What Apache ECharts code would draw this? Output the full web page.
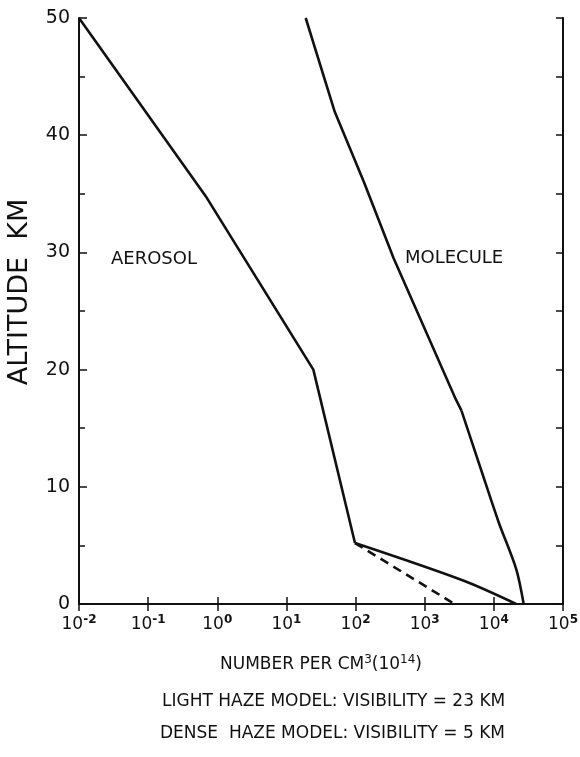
<!DOCTYPE html>
<html>
<head>
<meta charset="utf-8">
<script src="https://cdn.jsdelivr.net/npm/echarts@6/dist/echarts.min.js"></script>
<style>
  html, body { margin: 0; padding: 0; background: #fff; }
  #main { width: 580px; height: 757px; }
</style>
</head>
<body>
<div id="main"></div>
<script>
// altitude (km) and number per cm3 (x 10^14)
var aerosolAlt = [50, 34.8, 20, 5.2];
var aerosolVal = [0.01, 0.68, 24.5, 98];
var lightHazeAlt = [5.2, 2, 0];
var lightHazeVal = [98, 3600, 21000];
var denseHazeAlt = [5.2, 0];
var denseHazeVal = [98, 2700];
var moleculeAlt = [50, 42, 36, 29.5, 17.5, 16.5, 11.5, 7, 3, 0];
var moleculeVal = [19, 50, 132, 355, 2800, 3400, 6500, 11700, 21000, 27000];
var yTicks = [0, 10, 20, 30, 40, 50];

function pairs(vals, alts) {
    return vals.map(function (v, i) { return [v, alts[i]]; });
}

// molecule: straight segments above ~16 km, smooth bend below
var moleculeData = pairs(moleculeVal, moleculeAlt);
var moleculeUpper = moleculeData.slice(0, 6);
var moleculeLower = moleculeData.slice(5);

var font = 'DejaVu Sans';
var ink = '#111';

var myChart = echarts.init(document.getElementById('main'));

var lineStyle = function (type) {
    return {color: ink, width: 2.6, type: type || 'solid'};
};

var option = {
    backgroundColor: '#fff',
    animation: false,
    grid: {left: 79, right: 17, top: 18, bottom: 153, containLabel: false, outerBoundsMode: 'none'},
    xAxis: [
        {
            type: 'log',
            logBase: 10,
            min: 0.01,
            max: 100000,
            name: 'NUMBER PER CM{sup|3}(10{sup|14})',
            nameLocation: 'middle',
            nameGap: 50,
            nameTextStyle: {
                color: ink, fontFamily: font, fontSize: 17,
                rich: {sup: {fontSize: 12, padding: [0, 0, 10, 0], color: ink, fontFamily: font}}
            },
            axisLine: {lineStyle: {color: ink, width: 2}},
            axisTick: {inside: true, length: 7, lineStyle: {color: ink, width: 1.5}},
            splitLine: {show: false},
            minorTick: {show: false},
            axisLabel: {
                margin: 10,
                formatter: function (v) {
                    var e = Math.round(Math.log10(v));
                    return '{b|10}{s|' + (e < 0 ? '-' + (-e) : e) + '}';
                },
                rich: {
                    b: {fontSize: 17, color: ink, fontFamily: font},
                    s: {fontSize: 12, color: ink, fontFamily: font, fontWeight: 'bold', padding: [0, 0, 10, 0]}
                }
            }
        },
        {
            type: 'log',
            logBase: 10,
            min: 0.01,
            max: 100000,
            position: 'top',
            axisLine: {lineStyle: {color: ink, width: 2}},
            axisTick: {inside: true, length: 7, lineStyle: {color: ink, width: 1.5}},
            axisLabel: {show: false},
            splitLine: {show: false}
        }
    ],
    yAxis: [
        {
            type: 'value',
            min: 0,
            max: 50,
            interval: 10,
            axisLine: {lineStyle: {color: ink, width: 2}},
            axisTick: {inside: true, length: 8, lineStyle: {color: ink, width: 1.5}},
            minorTick: {show: true, splitNumber: 2, length: 6, lineStyle: {color: ink, width: 1.5}},
            splitLine: {show: false},
            axisLabel: {
                color: ink, fontFamily: font, fontSize: 19, margin: 9,
                formatter: function (v) { return yTicks.indexOf(v) >= 0 ? String(v) : ''; }
            }
        },
        {
            type: 'value',
            min: 0,
            max: 50,
            interval: 5,
            position: 'right',
            axisLine: {show: true, lineStyle: {color: ink, width: 2}},
            axisTick: {show: true, inside: true, length: 7, lineStyle: {color: ink, width: 1.5}},
            axisLabel: {show: false},
            splitLine: {show: false}
        }
    ],
    series: [
        {
            name: 'aerosol', type: 'line', symbol: 'none',
            data: pairs(aerosolVal, aerosolAlt), lineStyle: lineStyle()
        },
        {
            name: 'light haze', type: 'line', symbol: 'none', smooth: 0.3,
            data: pairs(lightHazeVal, lightHazeAlt), lineStyle: lineStyle()
        },
        {
            name: 'dense haze', type: 'line', symbol: 'none',
            data: pairs(denseHazeVal, denseHazeAlt), lineStyle: lineStyle([9, 6])
        },
        {
            name: 'molecule', type: 'line', symbol: 'none',
            data: moleculeUpper, lineStyle: lineStyle()
        },
        {
            name: 'molecule low', type: 'line', symbol: 'none', smooth: 0.3,
            data: moleculeLower, lineStyle: lineStyle()
        }
    ],
    graphic: [
        {
            type: 'text', x: 20, y: 292, rotation: Math.PI / 2,
            style: {text: 'ALTITUDE  KM', font: '27px "DejaVu Sans"', fill: ink, align: 'center', verticalAlign: 'middle'}
        },
        {type: 'text', left: 111, top: 250, style: {text: 'AEROSOL', font: '18px "DejaVu Sans"', fill: ink}},
        {type: 'text', left: 405, top: 249, style: {text: 'MOLECULE', font: '18px "DejaVu Sans"', fill: ink}},
        {type: 'text', left: 162, top: 693, style: {text: 'LIGHT HAZE MODEL: VISIBILITY = 23 KM', font: '17px "DejaVu Sans"', fill: ink}},
        {type: 'text', left: 160, top: 725, style: {text: 'DENSE  HAZE MODEL: VISIBILITY = 5 KM', font: '17px "DejaVu Sans"', fill: ink}}
    ]
};

myChart.setOption(option);
</script>
</body>
</html>
